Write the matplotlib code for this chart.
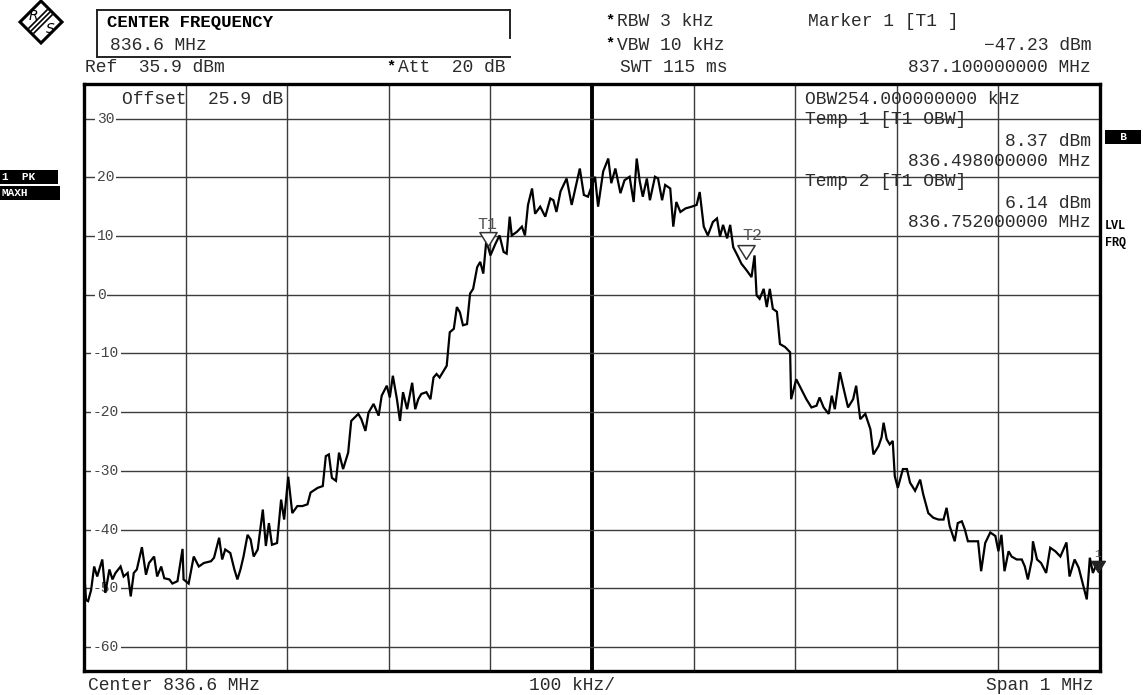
import matplotlib
matplotlib.use("Agg")
import matplotlib.pyplot as plt
from matplotlib.lines import Line2D
from matplotlib.patches import Polygon, Rectangle

W, H = 1143, 695

ref_level = 35.9
grid_db = [30, 20, 10, 0, -10, -20, -30, -40, -50, -60]
grid_khz = [-400, -300, -200, -100, 0, 100, 200, 300, 400]

# trace: offset from 836.6 MHz in kHz, level in dBm
freq_khz = [
    -500, -498, -496, -493, -490, -487, -482, -479, -475, -472, -469, -464, -461, -457,
    -454, -451, -448, -443, -439, -436, -431, -428, -424, -421, -416, -413, -408, -403,
    -402, -397, -392, -387, -382, -375, -372, -367, -364, -361, -356, -352, -349, -346,
    -343, -339, -336, -333, -329, -324, -321, -318, -315, -310, -306, -303, -299, -295,
    -290, -285, -280, -277, -270, -265, -262, -259, -256, -252, -249,
    -245, -240, -237, -230, -227, -223, -220, -215, -210, -207, -202, -199, -196, -192,
    -189, -186, -182, -177, -174, -171, -168, -163, -159, -156, -153, -150, -143, -140,
    -136, -133, -130, -127, -123, -120, -117, -113, -110, -107, -104, -100, -95, -91,
    -87, -84, -81, -79, -74, -69, -66, -63, -59, -56, -51, -46, -41, -38, -35, -31,
    -25, -20, -17, -12, -8, -4,
    3, 6, 11, 16, 19, 23, 28, 32, 37, 41, 44, 47, 50, 54, 57, 62, 65, 69, 72, 77, 80,
    83, 87, 92, 98, 103, 106, 110, 114, 119, 123, 126, 129, 133, 136, 139, 144, 147,
    152, 157, 160, 162, 165, 169, 172, 175, 178, 182, 185, 190, 195, 196, 201, 206,
    211, 216, 221, 224, 228, 233, 236, 239, 244,
    247, 252, 257, 260, 264, 269, 274, 277, 282, 285, 287, 290, 293, 296, 298, 301,
    306, 310, 313, 318, 323, 326, 331, 336, 341, 346, 349, 352, 357, 360, 364, 367,
    370, 375, 380, 383, 387, 392, 397, 400, 403, 406, 410, 413, 418, 423, 426, 429,
    433, 434, 438, 442, 447, 451, 456, 461, 467, 470, 475, 479, 482, 487, 490, 493,
    497, 500,
]
level_dbm = [
    -46.8, -52.0, -52.2, -50.3, -46.3, -48.0, -45.1, -50.8, -46.8, -48.5, -47.4, -46.3, -48.0, -47.4,
    -51.4, -47.4, -46.8, -43.0, -47.7, -45.7, -44.6, -48.0, -46.3, -48.3, -48.5, -49.2, -48.8, -43.3,
    -48.5, -49.2, -44.6, -46.3, -45.7, -45.4, -44.8, -41.4, -45.1, -43.4, -44.0, -46.8, -48.5, -46.8,
    -44.6, -40.9, -41.7, -44.6, -43.4, -36.6, -42.8, -38.9, -42.6, -42.3, -34.9, -38.3, -31.0, -37.2,
    -36.0, -36.0, -35.7, -33.7, -32.9, -32.6, -27.5, -27.2, -31.2, -31.7, -26.9,
    -29.7, -26.9, -21.5, -20.3, -21.2, -23.2, -20.1, -18.6, -20.6, -17.2, -15.5, -17.5, -13.8, -17.8,
    -21.5, -16.6, -19.5, -15.0, -19.5, -17.8, -16.9, -16.6, -17.8, -14.1, -13.5, -14.1, -12.1, -6.4,
    -5.8, -2.1, -3.0, -5.2, -5.0, 0.2, 1.0, 4.7, 5.6, 3.6, 9.3, 6.7, 8.7, 10.1,
    7.3, 7.0, 13.3, 10.1, 10.7, 11.6, 10.1, 15.3, 18.1, 13.8, 15.0, 13.3, 16.4, 16.1, 14.1, 17.6,
    19.8, 15.3, 17.6, 21.5, 17.0, 16.7,
    20.1, 15.0, 21.0, 23.2, 19.0, 21.5, 17.3, 19.5, 20.1, 15.8, 23.2, 19.3, 16.7, 19.8, 16.1, 20.1, 19.8, 16.1, 18.7, 18.1, 11.6,
    15.8, 14.1, 14.7, 15.0, 15.3, 17.5, 11.6, 10.1, 12.4, 13.0, 9.9, 11.9, 9.6, 11.9, 8.1, 6.4, 5.3,
    4.2, 3.0, 6.7, -0.1, -0.7, 1.0, -2.1, 1.0, -2.4, -2.9, -8.4, -8.9, -9.8, -17.8, -14.4, -16.1,
    -17.8, -19.2, -18.9, -17.5, -19.2, -20.3, -17.2, -19.5, -13.2,
    -15.5, -19.2, -17.8, -15.5, -21.2, -20.3, -22.9, -27.2, -25.8, -24.3, -21.8, -24.6, -25.5, -24.9, -30.9, -32.9,
    -29.7, -29.7, -32.0, -33.4, -31.5, -34.0, -37.2, -38.0, -38.3, -38.3, -36.3, -39.4, -42.0, -38.9, -38.6, -40.0,
    -42.0, -42.0, -42.0, -47.1, -42.3, -40.5, -41.1, -43.7, -40.9, -47.1, -43.7, -44.6, -45.1, -45.1, -46.3, -48.5,
    -45.1, -42.0, -45.1, -45.7, -47.4, -43.1, -43.7, -44.6, -42.2, -48.0, -45.1, -46.5, -48.5, -51.9, -44.8, -47.4,
    -45.7, -47.2,
]

# OBW temp markers (836.498 / 836.752 MHz) and marker 1 (837.1 MHz)
tmark_khz = [-102, 152]
tmark_dbm = [8.37, 6.14]
tmark_names = ['T1', 'T2']
m1_khz = 500
m1_dbm = -47.23

MONO = 'Liberation Mono'
INK = '#2b2b2b'

plt.rcParams['font.family'] = MONO


def fx(x):
    return x / W


def fy(y):
    return 1 - y / H


fig = plt.figure(figsize=(W / 100, H / 100), dpi=100)
fig.patch.set_facecolor('white')

ax = fig.add_axes([fx(84), fy(671), 1016 / W, 587 / H])
ax.set_xlim(-500, 500)
ax.set_ylim(ref_level - 100, ref_level)
ax.set_xticks([]); ax.set_yticks([])
for s in ax.spines.values():
    s.set_linewidth(2.4)
    s.set_color('black')

for f in grid_khz:
    ax.axvline(f, color='black' if f == 0 else '#3c3c3c', lw=2.8 if f == 0 else 1.0, zorder=1)
for g in grid_db:
    ax.axhline(g, color='#3c3c3c', lw=1.0, zorder=1)
    xl = 0.0085 if g < 0 else 0.0125
    ax.text(xl, g, str(g), transform=ax.get_yaxis_transform(), ha='left', va='center',
            fontsize=10.5, color='#444444', zorder=2,
            bbox=dict(boxstyle='square,pad=0.12', fc='white', ec='none'))

ax.plot(freq_khz, level_dbm, color='black', lw=1.6, zorder=5, solid_joinstyle='miter')

# hollow T1/T2 triangles, apex on the marker level
tri = [(0, 0), (-0.62, 1), (0.62, 1), (0, 0)]
ax.plot(tmark_khz, tmark_dbm, ls='none', marker=tri, ms=20, mfc='white', mec='#333333',
        mew=1.1, zorder=6)
ax.text(tmark_khz[0] - 1, tmark_dbm[0] + 2.3, tmark_names[0], ha='center', va='bottom',
        fontsize=12, color='#555555', zorder=6)
ax.text(tmark_khz[1] + 6, tmark_dbm[1] + 2.6, tmark_names[1], ha='center', va='bottom',
        fontsize=12, color='#555555', zorder=6)
ax.plot([m1_khz - 2], [m1_dbm], ls='none', marker=tri, ms=16, mfc='#222222', mec='#222222',
        zorder=6, clip_on=False)
ax.text(m1_khz - 2, m1_dbm + 2.2, '1', ha='center', va='bottom', fontsize=8, color='#555555',
        zorder=6, clip_on=False)

# texts inside the graticule
fig.text(fx(122), fy(100), 'Offset  25.9 dB', fontsize=13, color=INK, va='center', ha='left')
fig.text(fx(805), fy(100), 'OBW254.000000000 kHz', fontsize=13, color=INK, va='center')
fig.text(fx(805), fy(120), 'Temp 1 [T1 OBW]', fontsize=13, color=INK, va='center')
fig.text(fx(1091), fy(142), '8.37 dBm', fontsize=13, color=INK, va='center', ha='right')
fig.text(fx(1091), fy(162), '836.498000000 MHz', fontsize=13, color=INK, va='center', ha='right')
fig.text(fx(805), fy(181), 'Temp 2 [T1 OBW]', fontsize=13, color=INK, va='center')
fig.text(fx(1091), fy(203), '6.14 dBm', fontsize=13, color=INK, va='center', ha='right')
fig.text(fx(1091), fy(222), '836.752000000 MHz', fontsize=13, color=INK, va='center', ha='right')

# header
def seg(x0, y0, x1, y1, lw=1.4, c='#222222'):
    fig.add_artist(Line2D([fx(x0), fx(x1)], [fy(y0), fy(y1)], lw=lw, color=c,
                          transform=fig.transFigure))

seg(97, 10, 510, 10)
seg(97, 10, 97, 57)
seg(97, 57, 510, 57)
seg(510, 10, 510, 38)
fig.text(fx(107), fy(22), 'CENTER FREQUENCY', fontsize=12.5, fontweight='bold', color='black', va='center')
fig.text(fx(110), fy(45), '836.6 MHz', fontsize=13, color=INK, va='center')
fig.text(fx(85), fy(68), 'Ref  35.9 dBm', fontsize=13, color=INK, va='center')
fig.text(fx(386), fy(66), '*', fontsize=11, fontweight='bold', color='black', va='center')
fig.text(fx(398), fy(68), 'Att  20 dB', fontsize=13, color=INK, va='center')
fig.text(fx(605), fy(20), '*', fontsize=11, fontweight='bold', color='black', va='center')
fig.text(fx(617), fy(22), 'RBW 3 kHz', fontsize=13, color=INK, va='center')
fig.text(fx(605), fy(43), '*', fontsize=11, fontweight='bold', color='black', va='center')
fig.text(fx(617), fy(45), 'VBW 10 kHz', fontsize=13, color=INK, va='center')
fig.text(fx(620), fy(68), 'SWT 115 ms', fontsize=13, color=INK, va='center')
fig.text(fx(808), fy(22), 'Marker 1 [T1 ]', fontsize=13, color=INK, va='center')
fig.text(fx(1091), fy(45), '\u221247.23 dBm', fontsize=13, color=INK, va='center', ha='right')
fig.text(fx(1091), fy(68), '837.100000000 MHz', fontsize=13, color=INK, va='center', ha='right')

# footer
fig.text(fx(88), fy(686), 'Center 836.6 MHz', fontsize=13, color=INK, va='center')
fig.text(fx(572), fy(686), '100 kHz/', fontsize=13, color=INK, va='center', ha='center')
fig.text(fx(1094), fy(686), 'Span 1 MHz', fontsize=13, color=INK, va='center', ha='right')

# side badges
def badge(x0, y0, w, h, txt):
    fig.add_artist(Rectangle((fx(x0), fy(y0 + h)), w / W, h / H, fc='black', ec='none',
                             transform=fig.transFigure))
    fig.text(fx(x0 + 2), fy(y0 + h / 2), txt, fontsize=8, fontweight='bold', color='white',
             va='center', ha='left')

badge(0, 170, 58, 14, '1  PK')
badge(0, 186, 60, 14, 'MAXH')
badge(1105, 130, 36, 14, '  B')
fig.text(fx(1105), fy(226), 'LVL', fontsize=8.5, fontweight='bold', color='black', va='center')
fig.text(fx(1105), fy(243), 'FRQ', fontsize=8.5, fontweight='bold', color='black', va='center')

# R&S logo
lx, ly, r = 41, 22, 21
fig.add_artist(Polygon([(fx(lx - r), fy(ly)), (fx(lx), fy(ly - r)), (fx(lx + r), fy(ly)),
                        (fx(lx), fy(ly + r))], closed=True, fc='white', ec='black', lw=2.2,
                       transform=fig.transFigure))
for d in (-3, -0.5, 2):
    seg(lx - 9 + d, ly + 9 + d, lx + 9 + d, ly - 9 + d, lw=1.2, c='black')
fig.text(fx(lx - 8), fy(ly - 6), 'R', fontsize=10, style='italic', color='black', ha='center', va='center',
         family='DejaVu Sans')
fig.text(fx(lx + 9), fy(ly + 7), 'S', fontsize=10, style='italic', color='black', ha='center', va='center',
         family='DejaVu Sans')

fig.savefig('out.png', dpi=100)
